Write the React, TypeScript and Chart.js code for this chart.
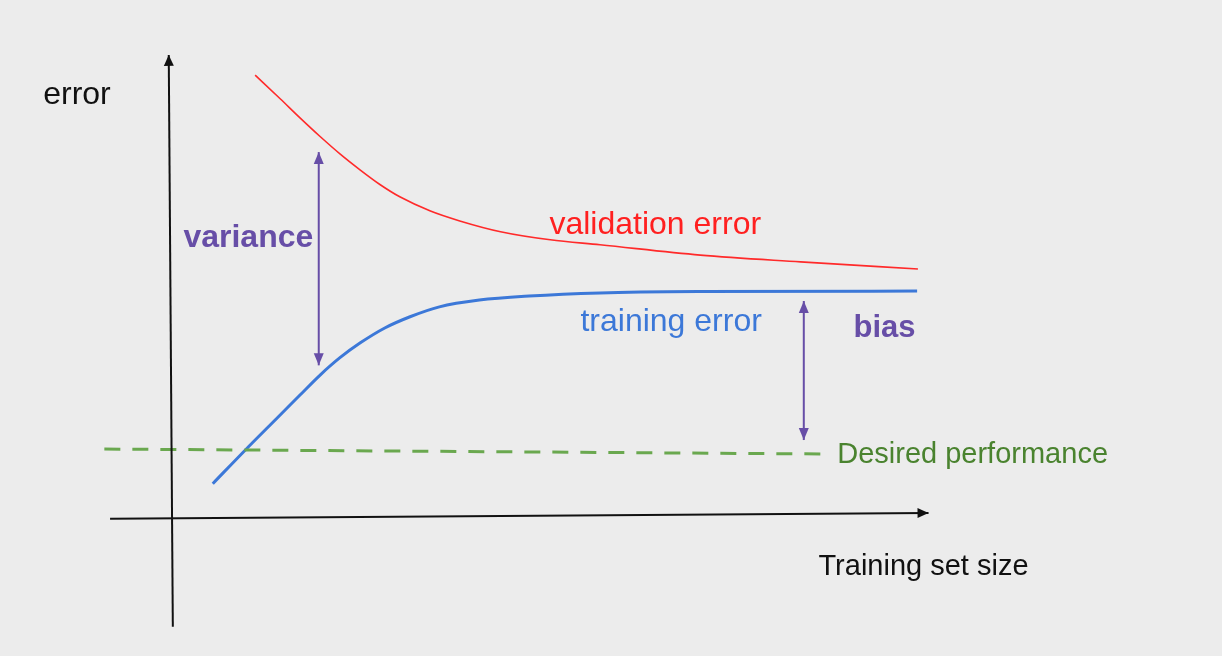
import React, { useEffect, useRef } from "react";
import { Chart, registerables } from "chart.js";

Chart.register(...registerables);

// ---- data (x = training set size, y = error; arbitrary units) ----
const valSize = [10.2, 13.3, 15.7, 18.2, 20.6, 23.1, 25.5, 28.0, 31.7, 35.3, 40.3, 46.4, 52.5, 64.8, 77.1, 91.5];
const valError = [98.4, 93.1, 88.9, 84.7, 80.9, 77.3, 74.1, 71.3, 68.2, 66.0, 63.6, 61.8, 60.7, 58.4, 56.9, 55.3];

const trainSize = [5.0, 9.0, 12.9, 15.7, 18.2, 20.6, 23.1, 26.1, 29.2, 32.8, 37.7, 43.8, 52.5, 64.8, 91.4];
const trainError = [7.6, 15.1, 22.2, 27.3, 31.8, 35.6, 38.9, 42.2, 44.7, 46.9, 48.4, 49.3, 50.0, 50.3, 50.4];

const desiredSize = [-8.3, 79.8];
const desiredError = [15.3, 14.2];

const varianceSize = [18.0, 18.0];
const varianceRange = [33.9, 81.3];

const biasSize = [77.5, 77.5];
const biasRange = [17.3, 48.2];

const xAxisSize = [-7.6, 92.8];
const xAxisError = [-0.2, 1.1];
const yAxisSize = [0.1, -0.4];
const yAxisError = [-24.2, 102.9];

const labelTexts = ["error", "validation error", "training error", "variance", "bias", "Desired performance", "Training set size"];
const labelSize = [-15.8, 46.3, 50.1, 1.4, 83.6, 81.6, 79.3];
const labelError = [92.0, 63.1, 41.6, 60.2, 40.2, 12.2, -12.7];

// ---- styles ----
const FONT = '"Liberation Sans", Arial, Helvetica, sans-serif';
const labelStyles = [
  { color: "#111111", size: 32, weight: "normal" },
  { color: "#ff2020", size: 32, weight: "normal" },
  { color: "#3c78d8", size: 32, weight: "normal" },
  { color: "#674ea7", size: 32, weight: "bold" },
  { color: "#674ea7", size: 31, weight: "bold" },
  { color: "#4a832f", size: 29, weight: "normal" },
  { color: "#111111", size: 29, weight: "normal" },
];

const pts = (xs: number[], ys: number[]) => xs.map((x, i) => ({ x, y: ys[i] }));

const arrowPlugin = {
  id: "arrowHeads",
  afterDatasetsDraw(chart: any) {
    const ctx = chart.ctx;
    chart.data.datasets.forEach((ds: any, di: number) => {
      if (!ds.arrowStart && !ds.arrowEnd) return;
      const meta = chart.getDatasetMeta(di);
      const els = meta.data;
      if (els.length < 2) return;
      const L = ds.arrowLen || 11;
      const W = ds.arrowHalf || 5;
      const draw = (tip: any, from: any) => {
        const dx = tip.x - from.x;
        const dy = tip.y - from.y;
        const d = Math.hypot(dx, dy) || 1;
        const ux = dx / d, uy = dy / d;
        const bx = tip.x - ux * L, by = tip.y - uy * L;
        ctx.save();
        ctx.fillStyle = ds.borderColor;
        ctx.beginPath();
        ctx.moveTo(tip.x, tip.y);
        ctx.lineTo(bx - uy * W, by + ux * W);
        ctx.lineTo(bx + uy * W, by - ux * W);
        ctx.closePath();
        ctx.fill();
        ctx.restore();
      };
      if (ds.arrowEnd) draw(els[els.length - 1], els[els.length - 2]);
      if (ds.arrowStart) draw(els[0], els[1]);
    });
  },
};

const labelPlugin = {
  id: "diagramLabels",
  afterDraw(chart: any) {
    const ctx = chart.ctx;
    const xs = chart.scales.x;
    const ys = chart.scales.y;
    labelTexts.forEach((t, i) => {
      const st = labelStyles[i];
      ctx.save();
      ctx.font = `${st.weight} ${st.size}px ${FONT}`;
      ctx.fillStyle = st.color;
      ctx.textAlign = "left";
      ctx.textBaseline = "alphabetic";
      ctx.fillText(t, xs.getPixelForValue(labelSize[i]), ys.getPixelForValue(labelError[i]));
      ctx.restore();
    });
  },
};

export default function App() {
  const ref = useRef<HTMLCanvasElement | null>(null);

  useEffect(() => {
    if (!ref.current) return;
    const line = (data: any[], color: string, width: number, extra: any = {}) => ({
      data,
      showLine: true,
      borderColor: color,
      backgroundColor: color,
      borderWidth: width,
      pointRadius: 0,
      pointHoverRadius: 0,
      fill: false,
      ...extra,
    });
    const chart = new Chart(ref.current, {
      type: "scatter",
      data: {
        datasets: [
          line(pts(xAxisSize, xAxisError), "#111111", 2, { arrowEnd: true, arrowLen: 11, arrowHalf: 5 }),
          line(pts(yAxisSize, yAxisError), "#111111", 2, { arrowEnd: true, arrowLen: 11, arrowHalf: 5 }),
          line(pts(desiredSize, desiredError), "#6aa84f", 3, { borderDash: [16, 12] }),
          line(pts(valSize, valError), "#ff2a2a", 1.6, { cubicInterpolationMode: "monotone" }),
          line(pts(trainSize, trainError), "#3c78d8", 3, { cubicInterpolationMode: "monotone" }),
          line(pts(varianceSize, varianceRange), "#674ea7", 2, { arrowStart: true, arrowEnd: true, arrowLen: 12, arrowHalf: 5 }),
          line(pts(biasSize, biasRange), "#674ea7", 2, { arrowStart: true, arrowEnd: true, arrowLen: 12, arrowHalf: 5 }),
        ] as any,
      },
      options: {
        animation: false,
        responsive: true,
        maintainAspectRatio: false,
        layout: { padding: 0 },
        events: [],
        scales: {
          x: { type: "linear", display: false, min: -21.1, max: 128.8 },
          y: { type: "linear", display: false, min: -30.7, max: 115.1 },
        },
        plugins: {
          legend: { display: false },
          tooltip: { enabled: false },
        },
      } as any,
      plugins: [arrowPlugin, labelPlugin],
    });
    return () => chart.destroy();
  }, []);

  return (
    <div
      style={{
        position: "fixed",
        left: 0,
        top: 0,
        width: 1222,
        height: 656,
        background: "#ececec",
      }}
    >
      <canvas ref={ref} />
    </div>
  );
}
